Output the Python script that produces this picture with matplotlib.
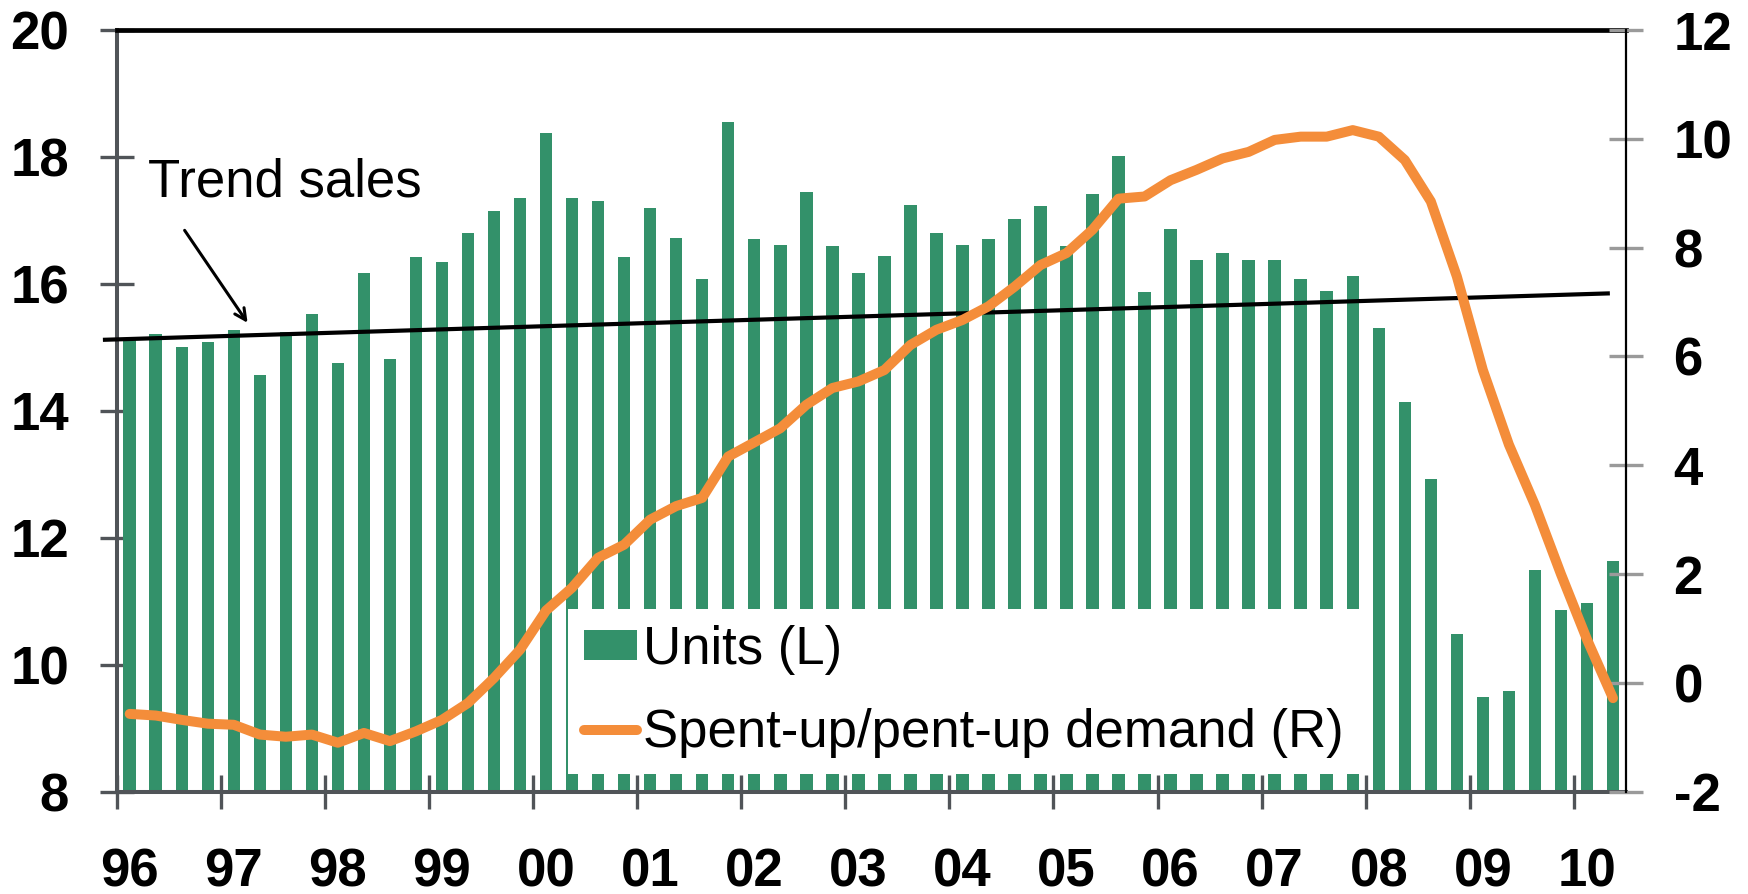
import matplotlib
matplotlib.use('Agg')
import matplotlib.pyplot as plt
import numpy as np

plt.rcParams['font.family'] = ['Liberation Sans', 'DejaVu Sans']
plt.rcParams['axes.unicode_minus'] = False

# quarterly data, 1996Q1 .. 2010Q2
years = ['96', '97', '98', '99', '00', '01', '02', '03', '04', '05', '06', '07', '08', '09', '10']
units = [15.11, 15.21, 15.01, 15.09, 15.27, 14.57, 15.25, 15.53,
         14.75, 16.17, 14.81, 16.42, 16.34, 16.80, 17.15, 17.36,
         18.37, 17.36, 17.30, 16.42, 17.20, 16.72, 16.08, 18.55,
         16.70, 16.62, 17.45, 16.60, 16.17, 16.44, 17.24, 16.80,
         16.62, 16.70, 17.02, 17.22, 16.60, 17.41, 18.01, 15.87,
         16.86, 16.37, 16.49, 16.37, 16.37, 16.07, 15.89, 16.12,
         15.30, 14.14, 12.93, 10.49, 9.49, 9.58, 11.50, 10.86,
         10.98, 11.64]
pentup = [-0.57, -0.60, -0.68, -0.75, -0.77, -0.95, -0.99, -0.95,
          -1.10, -0.92, -1.07, -0.89, -0.68, -0.37, 0.09, 0.61,
          1.33, 1.75, 2.30, 2.54, 3.00, 3.25, 3.40, 4.16,
          4.42, 4.68, 5.11, 5.42, 5.54, 5.75, 6.21, 6.49,
          6.67, 6.92, 7.28, 7.68, 7.90, 8.33, 8.90, 8.94,
          9.24, 9.43, 9.64, 9.76, 9.98, 10.04, 10.04, 10.16,
          10.04, 9.61, 8.85, 7.47, 5.75, 4.38, 3.27, 2.00,
          0.80, -0.28]
# trend sales line: quarter index and level at both ends
trend_q = [-0.95, 56.8]
trend_val = [15.12, 15.85]

green = '#33916A'
orange = '#F48D3A'
gray = '#505458'

fig = plt.figure(figsize=(17.48, 8.94), dpi=100)
ax = fig.add_axes([0.06676, 0.11443, 0.86344, 0.85201])
ax2 = ax.twinx()

x = np.arange(len(units))
bars = ax.bar(x, units, width=0.48, color=green, zorder=2, label='Units (L)')
ax.plot(trend_q, trend_val, color='black', lw=3.0, zorder=3, clip_on=False)
line, = ax2.plot(x, pentup, color=orange, lw=7.2, solid_capstyle='round',
                 label='Spent-up/pent-up demand (R)', zorder=3)

ax.set_xlim(-0.5, len(units) - 0.5)
ax.set_ylim(8, 20)
ax2.set_ylim(-2, 12)

# x axis: ticks between years, labels under first quarter
ax.set_xticks(np.arange(-0.5, len(units) - 1, 4))
ax.set_xticklabels([])
ax.set_xticks(np.arange(0, len(units), 4), minor=True)
ax.set_xticklabels(years, minor=True, fontsize=38, fontweight='bold')
ax.tick_params(axis='x', which='major', direction='inout', length=24.5, width=2.4, color=gray)
ax.tick_params(axis='x', which='minor', length=0, pad=40)

ax.set_yticks(np.arange(8, 21, 2))
ax.set_yticklabels([str(v) for v in range(8, 21, 2)], fontsize=38, fontweight='bold')
ax.tick_params(axis='y', direction='inout', length=24.5, width=2.4, color=gray, pad=22)

ax2.set_yticks(np.arange(-2, 13, 2))
ax2.set_yticklabels([str(v) for v in range(-2, 13, 2)], fontsize=38, fontweight='bold')
ax2.tick_params(axis='y', direction='inout', length=24.5, width=2.4, color='#9a9a9a', pad=22)

for s in ['left', 'bottom']:
    ax.spines[s].set_color(gray)
    ax.spines[s].set_linewidth(2.9)
ax.spines['top'].set_color('black')
ax.spines['top'].set_linewidth(3.4)
ax.spines['right'].set_visible(False)
for s in ['left', 'bottom', 'top']:
    ax2.spines[s].set_visible(False)
ax2.spines['right'].set_color('black')
ax2.spines['right'].set_linewidth(1.6)

# annotation
ax.text(0.70, 17.37, 'Trend sales', fontsize=38, ha='left', va='baseline', zorder=5)
ax.annotate('', xy=(4.59, 15.35), xytext=(2.05, 16.88),
            arrowprops=dict(arrowstyle='->,head_length=0.8,head_width=0.4', lw=2.2, color='black'))

leg = ax2.legend([bars, line], ['Units (L)', 'Spent-up/pent-up demand (R)'],
                 loc='upper left', bbox_to_anchor=(568 / 1748, 1 - 609 / 894),
                 bbox_transform=fig.transFigure, fontsize=38, frameon=True,
                 fancybox=False, framealpha=1, facecolor='white', edgecolor='none',
                 handlelength=1.0, handleheight=0.5, handletextpad=0.12,
                 labelspacing=0.63, borderpad=0.3, borderaxespad=0)
leg.set_zorder(10)

fig.savefig('out.png', dpi=100)
